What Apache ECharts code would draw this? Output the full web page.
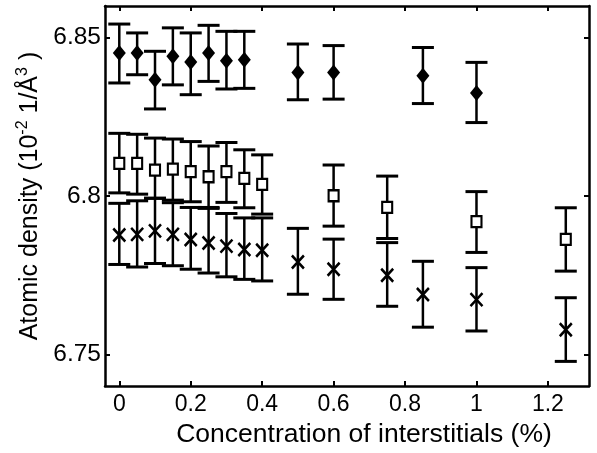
<!DOCTYPE html>
<html>
<head>
<meta charset="utf-8">
<script src="https://cdn.jsdelivr.net/npm/echarts@6/dist/echarts.min.js"></script>
<style>html,body{margin:0;padding:0;background:#fff;}#c{width:597px;height:453px;}</style>
</head>
<body>
<div id="c"></div>
<script>
// x tick labels and y tick labels
var xTicks = [0, 0.2, 0.4, 0.6, 0.8, 1, 1.2];
var yTicks = [6.75, 6.8, 6.85];

// Diamond series
var xD = [0, 0.05, 0.1, 0.15, 0.2, 0.25, 0.3, 0.35, 0.5, 0.6, 0.85, 1.0];
var yD = [6.8452, 6.8452, 6.8367, 6.8441, 6.8423, 6.8452, 6.8427, 6.8430, 6.8390, 6.8390, 6.8380, 6.8325];
var hiD = [6.8543, 6.8515, 6.8457, 6.8531, 6.8515, 6.8539, 6.8520, 6.8520, 6.8480, 6.8475, 6.8469, 6.8422];
var loD = [6.8357, 6.8383, 6.8275, 6.8351, 6.8320, 6.8362, 6.8338, 6.8340, 6.8304, 6.8306, 6.8292, 6.8232];

// Square series
var xS = [0, 0.05, 0.1, 0.15, 0.2, 0.25, 0.3, 0.35, 0.4, 0.6, 0.75, 1.0, 1.25];
var yS = [6.8103, 6.8103, 6.8082, 6.8085, 6.8077, 6.8061, 6.8077, 6.8056, 6.8037, 6.8001, 6.7964, 6.7919, 6.7863];
var hiS = [6.8198, 6.8195, 6.8183, 6.8180, 6.8172, 6.8158, 6.8169, 6.8146, 6.8130, 6.8098, 6.8063, 6.8014, 6.7963];
var loS = [6.8010, 6.8006, 6.7993, 6.7987, 6.7982, 6.7964, 6.7980, 6.7963, 6.7943, 6.7905, 6.7866, 6.7822, 6.7763];

// Cross series
var xC = [0, 0.05, 0.1, 0.15, 0.2, 0.25, 0.3, 0.35, 0.4, 0.5, 0.6, 0.75, 0.85, 1.0, 1.25];
var yC = [6.7877, 6.7879, 6.7890, 6.7879, 6.7863, 6.7852, 6.7842, 6.7831, 6.7829, 6.7792, 6.7769, 6.7750, 6.7689, 6.7673, 6.7578];
var hiC = [6.7977, 6.7985, 6.7993, 6.7979, 6.7964, 6.7961, 6.7945, 6.7931, 6.7931, 6.7898, 6.7864, 6.7853, 6.7794, 6.7774, 6.7679];
var loC = [6.7784, 6.7776, 6.7787, 6.7780, 6.7769, 6.7757, 6.7745, 6.7737, 6.7732, 6.7690, 6.7674, 6.7652, 6.7586, 6.7574, 6.7478];

function zip2(a, b) { return a.map(function (v, i) { return [v, b[i]]; }); }
function zip3(a, b, c) { return a.map(function (v, i) { return [v, b[i], c[i]]; }); }

var FONT = '"Liberation Sans", Arial, Helvetica, sans-serif';

function errRender(params, api) {
  var x = api.value(0), lo = api.value(1), hi = api.value(2);
  var pLo = api.coord([x, lo]);
  var pHi = api.coord([x, hi]);
  var hw = 11;
  return {
    type: 'group',
    children: [
      { type: 'line', shape: { x1: pLo[0], y1: pLo[1], x2: pHi[0], y2: pHi[1] }, style: { stroke: '#000', lineWidth: 2.5 } },
      { type: 'line', shape: { x1: pLo[0] - hw, y1: pLo[1], x2: pLo[0] + hw, y2: pLo[1] }, style: { stroke: '#000', lineWidth: 3 } },
      { type: 'line', shape: { x1: pHi[0] - hw, y1: pHi[1], x2: pHi[0] + hw, y2: pHi[1] }, style: { stroke: '#000', lineWidth: 3 } }
    ]
  };
}

var xMin = -0.04, xMax = 1.315, yMin = 6.74, yMax = 6.86;

function xAx(pos, labels) {
  return {
    type: 'value', position: pos, min: xMin, max: xMax,
    axisLine: { show: true, onZero: false, lineStyle: { color: '#000', width: 2.5 } },
    axisTick: { show: true, inside: true, length: 5, customValues: xTicks, lineStyle: { color: '#000', width: 2 } },
    axisLabel: { show: labels, customValues: xTicks, margin: 7, color: '#000', fontSize: 23, fontFamily: FONT,
      formatter: function (v) { return String(Math.round(v * 10) / 10); } },
    splitLine: { show: false },
    name: labels ? 'Concentration of interstitials (%)' : '',
    nameLocation: 'middle', nameGap: 33,
    nameTextStyle: { color: '#000', fontSize: 26.5, fontFamily: FONT, padding: [0, 0, 0, 34] }
  };
}
function yAx(pos, labels) {
  return {
    type: 'value', position: pos, min: yMin, max: yMax,
    axisLine: { show: true, onZero: false, lineStyle: { color: '#000', width: 2.5 } },
    axisTick: { show: true, inside: true, length: 5, customValues: yTicks, lineStyle: { color: '#000', width: 2 } },
    axisLabel: { show: labels, customValues: yTicks, margin: 4, color: '#000', fontSize: 24.5, fontFamily: FONT,
      formatter: function (v) { return String(Math.round(v * 100) / 100); } },
    splitLine: { show: false },
    name: labels ? '{n|Atomic density (10}{s|-2}{n| 1/Å}{s|3}{n| )}' : '',
    nameLocation: 'middle', nameGap: 57,
    nameTextStyle: { color: '#000', fontSize: 25, fontFamily: FONT,
      rich: {
        n: { fontSize: 25, fontFamily: FONT, color: '#000' },
        s: { fontSize: 16, fontFamily: FONT, color: '#000', verticalAlign: 'top', padding: [0, 0, 14, 0] }
      } }
  };
}

var chart = echarts.init(document.getElementById('c'), null, { renderer: 'canvas' });
chart.setOption({
  animation: false,
  backgroundColor: '#fff',
  grid: { left: 105, right: 8, top: 6, bottom: 66, containLabel: false },
  xAxis: [xAx('bottom', true), xAx('top', false)],
  yAxis: [yAx('left', true), yAx('right', false)],
  series: [
    { type: 'custom', renderItem: errRender, data: zip3(xD, loD, hiD), encode: { x: 0, y: [1, 2] }, z: 2 },
    { type: 'custom', renderItem: errRender, data: zip3(xS, loS, hiS), encode: { x: 0, y: [1, 2] }, z: 2 },
    { type: 'custom', renderItem: errRender, data: zip3(xC, loC, hiC), encode: { x: 0, y: [1, 2] }, z: 2 },
    { type: 'scatter', data: zip2(xD, yD), symbol: 'diamond', symbolSize: [13, 16],
      itemStyle: { color: '#000', opacity: 1 }, z: 5 },
    { type: 'scatter', data: zip2(xS, yS), symbol: 'rect', symbolSize: [10, 11],
      itemStyle: { color: '#fff', borderColor: '#000', borderWidth: 2.2, opacity: 1 }, z: 5 },
    { type: 'scatter', data: zip2(xC, yC), symbol: 'path://M0,0L10,10M10,0L0,10', symbolSize: [12, 13],
      itemStyle: { color: 'rgba(0,0,0,0)', borderColor: '#000', borderWidth: 2.6, opacity: 1 }, z: 5 }
  ]
});
</script>
</body>
</html>
